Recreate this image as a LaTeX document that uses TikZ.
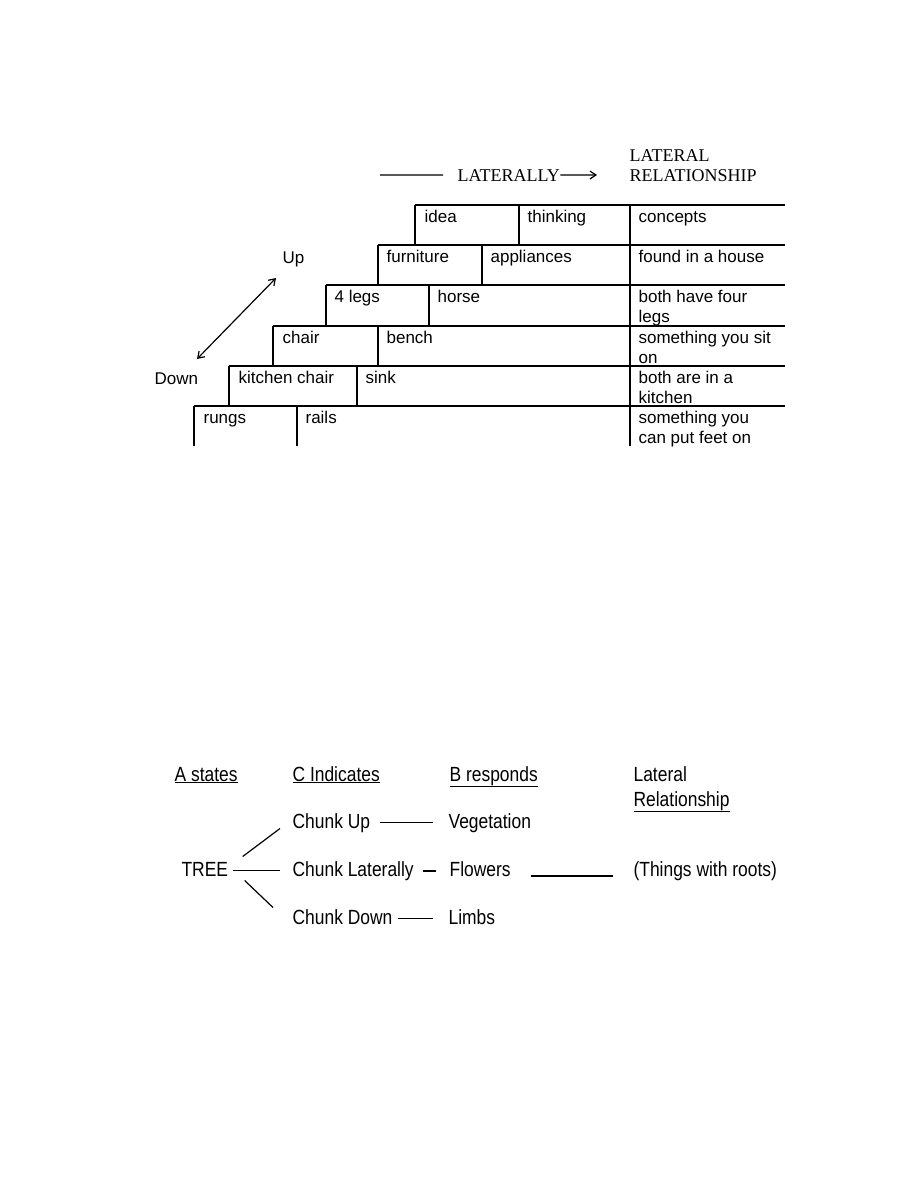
\documentclass[tikz,border=0pt]{standalone}
\usepackage{fontspec}
\usetikzlibrary{arrows.meta}
\setmainfont{Liberation Sans}
\newfontfamily\headfont{Liberation Serif}
\newfontfamily\narrowfont[FakeStretch=0.85]{Liberation Sans}

\begin{document}
\begin{tikzpicture}[
x=1pt, y=-1pt,
line width=1.2pt,
>={Straight Barb[length=6pt,width=8pt]},
cell/.style={
anchor=base west,
inner sep=0pt,
align=left,
font=\fontsize{17}{20}\selectfont
},
head/.style={
anchor=base west,
inner sep=0pt,
align=left,
font=\headfont\fontsize{18}{20}\selectfont
},
chunk/.style={
anchor=base west,
inner sep=0pt,
text height=15pt,
text depth=4pt,
font=\narrowfont\fontsize{20.5}{25}\selectfont
}
]

\useasboundingbox (0,0) rectangle (918,1188);

% base of a two-line node is its last line
\node[head] (Lat) at (457,181) {LATERALLY};
\node[head] (LatR) at (629,181) {LATERAL\\RELATIONSHIP};

\coordinate (L0) at (380,175);
\coordinate (L1) at (597,175);
\draw[shorten >=14pt] (L0) -- (Lat.west);
\draw[->] (Lat.east) -- (L1);

\draw (415,205) -- (785,205);
\draw (378,245) -- (785,245);
\draw (326,285) -- (785,285);
\draw (273,326) -- (785,326);
\draw (229,366) -- (785,366);
\draw (194,406) -- (785,406);

\draw (415,205) -- (415,245) (519,205) -- (519,245);
\draw (378,245) -- (378,285) (482,245) -- (482,285);
\draw (326,285) -- (326,326) (429,285) -- (429,326);
\draw (273,326) -- (273,366) (378,326) -- (378,366);
\draw (229,366) -- (229,406) (357,366) -- (357,406);
\draw (194,406) -- (194,446) (297,406) -- (297,446);
\draw (630,205) -- (630,446);

\node[cell] (Id) at (424,222) {idea};
\node[cell] (Th) at (527,222) {thinking};
\node[cell] (Co) at (638,222) {concepts};

\node[cell] (Fu) at (386,262) {furniture};
\node[cell] (Ap) at (490,262) {appliances};
\node[cell] (Ho) at (638,262) {found in a house};

\node[cell] (Fl4) at (334,302) {4 legs};
\node[cell] (Hr) at (437,302) {horse};
\node[cell] (Bf) at (638,322) {both have four\\legs};

\node[cell] (Ch) at (282,343) {chair};
\node[cell] (Be) at (386,343) {bench};
\node[cell] (Si) at (638,363) {something you sit\\on};

\node[cell] (Kc) at (238,383) {kitchen chair};
\node[cell] (Sk) at (365,383) {sink};
\node[cell] (Ki) at (638,403) {both are in a\\kitchen};

\node[cell] (Ru) at (203,423) {rungs};
\node[cell] (Ra) at (305,423) {rails};
\node[cell] (Fe) at (638,443) {something you\\can put feet on};

\node[cell] (Up) at (282,263) {Up};
\node[cell] (Dn) at (154,384) {Down};

\coordinate (a1) at (197,359);
\coordinate (a2) at (276,278);
\draw[<->] (a1) -- (a2);

\node[chunk] (As) at (174,781) {\underline{A states}};
\node[chunk] (Ci) at (292,781) {\underline{C Indicates}};
\node[chunk] (Br) at (449,781) {\underline{B responds}};
\node[chunk, text height=, text depth=, align=left] (LR) at (633,806) {Lateral\\\underline{Relationship}};

\node[chunk] (Tr) at (181,876) {TREE};
\node[chunk] (Cu) at (292,828) {Chunk Up};
\node[chunk] (Cl) at (292,876) {Chunk Laterally};
\node[chunk] (Cd) at (292,924) {Chunk Down};

\node[chunk] (Ve) at (448,828) {Vegetation};
\node[chunk] (Fw) at (449,876) {Flowers};
\node[chunk] (Li) at (448,924) {Limbs};
\node[chunk] (Tw) at (633,876) {(Things with roots)};

\draw[shorten <=9pt, shorten >=15pt] (Cu.east) -- (Ve.west);
\draw[line width=2pt, shorten <=9pt, shorten >=13pt] (Cl.east) -- (Fw.west);
\draw[shorten <=5pt, shorten >=15pt] (Cd.east) -- (Li.west);
\draw[shorten <=20pt, shorten >=20pt] (Fw.base east) -- (Tw.base west);

\draw[shorten <=4pt, shorten >=12pt] (Tr.east) -- (Cl.west);
\draw ([shift={(14,-14)}]Tr.east) -- ([shift={(-12,6)}]Cu.west);
\draw ([shift={(16,10)}]Tr.east) -- ([shift={(-19,-11)}]Cd.west);

\end{tikzpicture}
\end{document}
